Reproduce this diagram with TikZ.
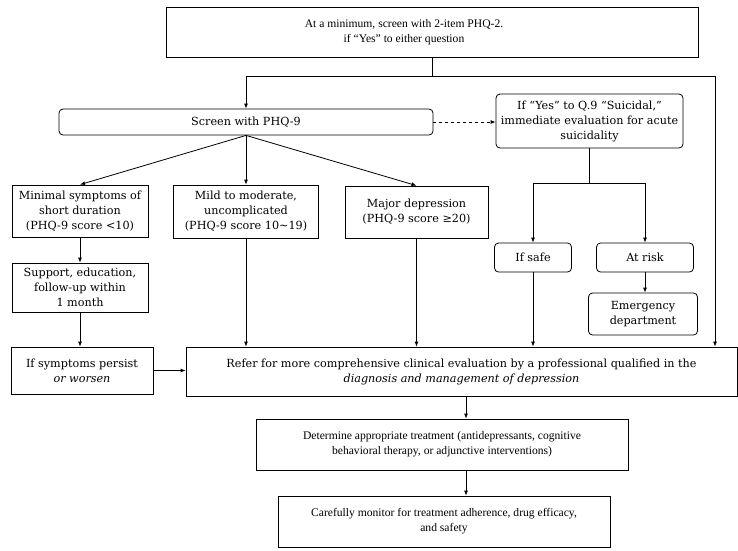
\documentclass[tikz,border=0pt]{standalone}
\usepackage{fontspec}
\setmainfont{DejaVu Serif}
\newfontfamily\narrowserif[Ligatures=TeX]{Liberation Serif}
\usepackage{tikz}
\usetikzlibrary{arrows.meta}

\begin{document}
\begin{tikzpicture}[
		x=1pt, y=-1pt,
		box/.style={draw, rectangle, align=center, inner sep=2pt, font=\fontsize{11.2}{15}\selectfont},
		rbox/.style={box, rounded corners=4pt},
		sbox/.style={box, font=\narrowserif\fontsize{11.6}{15}\selectfont},
		>={Latex[length=5pt,width=4pt]},
		line width=0.8pt]
	\useasboundingbox (0,0) rectangle (738,550);
	%% define boxes
	\node (top) at (432,32) [sbox, minimum width=532, minimum height=50] {\hspace*{-56pt}At a minimum, screen with 2-item PHQ-2.\\\hspace*{-56pt}if ``Yes'' to either question};
	\node (screen) at (246,122) [rbox, minimum width=374, minimum height=26] {Screen with PHQ-9};
	\node (suic) at (589.5,121) [rbox, minimum width=187, minimum height=54] {If ``Yes'' to Q.9 ``Suicidal,''\\immediate evaluation for acute\\suicidality};
	\node (minimal) at (80,211) [box, minimum width=136, minimum height=52] {Minimal symptoms of\\short duration\\(PHQ-9 score <10)};
	\node (mild) at (246,211.5) [box, minimum width=145, minimum height=53] {Mild to moderate,\\uncomplicated\\(PHQ-9 score 10\textasciitilde19)};
	\node (major) at (416.5,212) [box, minimum width=143, minimum height=52] {Major depression\\(PHQ-9 score ≥20)};
	\node (support) at (80,287.5) [box, minimum width=136, minimum height=49] {Support, education,\\follow-up within\\1 month};
	\node (safe) at (533,257.5) [rbox, minimum width=77, minimum height=29] {If safe};
	\node (risk) at (645,257.5) [rbox, minimum width=97, minimum height=29] {At risk};
	\node (emerg) at (643,314) [rbox, minimum width=109, minimum height=42] {Emergency\\department};
	\node (persist) at (82,370.5) [box, minimum width=142, minimum height=47] {If symptoms persist\\\textit{or worsen}};
	\node (refer) at (461.5,371.5) [box, minimum width=551, minimum height=49] {Refer for more comprehensive clinical evaluation by a professional qualified in the\\\textit{diagnosis and management of depression}};
	\node (treat) at (442,444.5) [sbox, minimum width=372, minimum height=51] {Determine appropriate treatment (antidepressants, cognitive\\behavioral therapy, or adjunctive interventions)};
	\node (monitor) at (444,521.5) [sbox, minimum width=332, minimum height=51] {Carefully monitor for treatment adherence, drug efficacy,\\and safety};
	%% define split points
	\coordinate (split) at (432,76);
	\coordinate (rtop) at (715,76);
	%% define arrows
	\draw (top) -- (split);
	\draw[->] (split) -| (screen.north);
	\draw[->] (split) -- (rtop) -- (rtop |- refer.north);
	\draw[->,dashed] (screen.east) -- (screen.east -| suic.west);
	\draw[->] (screen.south) -- (minimal.north);
	\draw[->] (screen.south) -- (mild.north);
	\draw[->] (screen.south) -- (major.north);
	\draw (suic.south) -- ++(0,35) coordinate (ssplit);
	\draw[->] (ssplit) -| (safe.north);
	\draw[->] (ssplit) -| (risk.north);
	\draw[->] (risk.south) -- (risk.south |- emerg.north);
	\draw[->] (minimal) -- (support);
	\draw[->] (support.south) -- (support.south |- persist.north);
	\draw[->] (persist.east) -- (persist.east -| refer.west);
	\draw[->] (mild.south) -- (mild.south |- refer.north);
	\draw[->] (major.south) -- (major.south |- refer.north);
	\draw[->] (safe.south) -- (safe.south |- refer.north);
	\draw[->] ([xshift=24pt]treat.north |- refer.south) -- ([xshift=24pt]treat.north);
	\draw[->] ([xshift=24pt]treat.south) -- ([xshift=24pt]treat.south |- monitor.north);
\end{tikzpicture}
\end{document}
